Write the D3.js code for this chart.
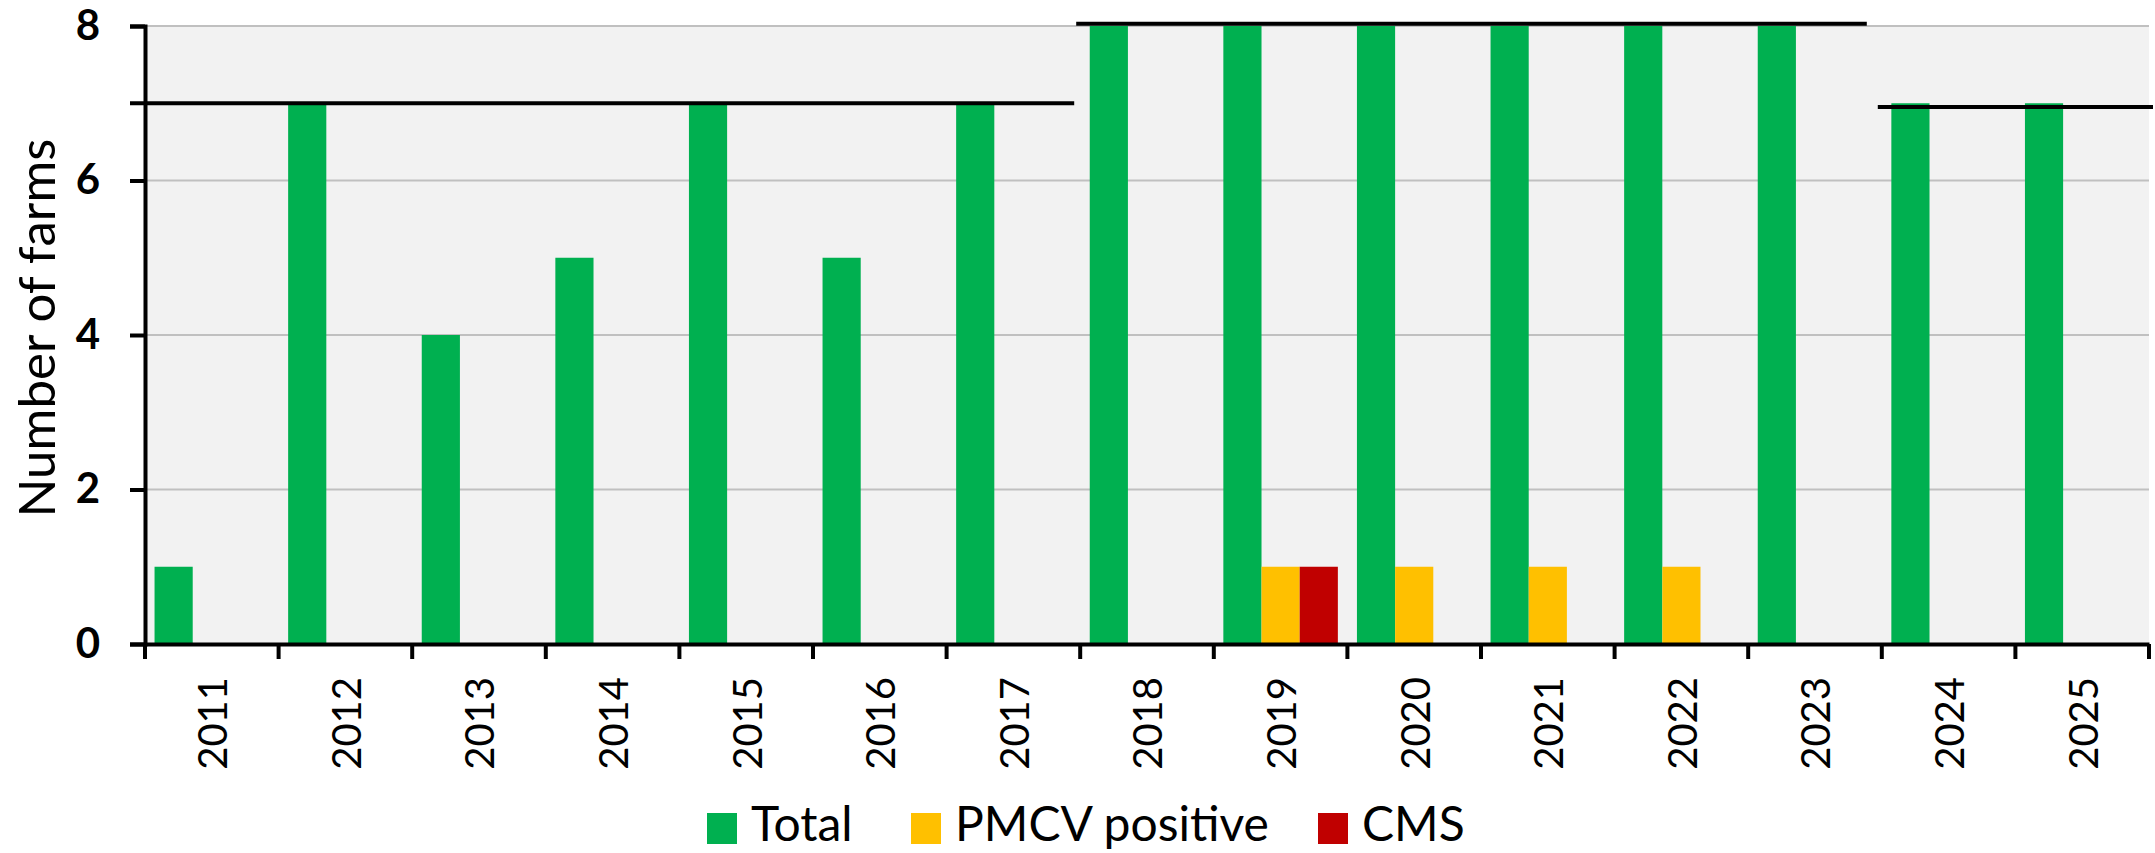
<!DOCTYPE html>
<html>
<head>
<meta charset="utf-8">
<script src="https://cdn.jsdelivr.net/npm/d3@7"></script>
<style>
  body { margin: 0; background: #fff; }
  text { font-family: Lato, "Open Sans", sans-serif; }
</style>
</head>
<body>
<div id="chart"></div>
<script>
var years = ["2011","2012","2013","2014","2015","2016","2017","2018","2019","2020","2021","2022","2023","2024","2025"];
var seriesNames = ["Total", "PMCV positive", "CMS"];
var totalFarms = [1, 7, 4, 5, 7, 5, 7, 8, 8, 8, 8, 8, 8, 7, 7];
var pmcvPositive = [0, 0, 0, 0, 0, 0, 0, 0, 1, 1, 1, 1, 0, 0, 0];
var cmsFarms = [0, 0, 0, 0, 0, 0, 0, 0, 1, 0, 0, 0, 0, 0, 0];
var yTicks = [0, 2, 4, 6, 8];
// horizontal reference lines over year ranges
var refStart = ["2011", "2018", "2024"];
var refEnd = ["2017", "2023", "2025"];
var refValue = [7, 8.03, 6.95];

var colors = ["#00b050", "#ffc000", "#c00000"];

function init(){
    var w = 2155;
    var h = 853;
    var left = 145, right = 2149, top = 26, bottom = 644;

    var svg = d3.select("#chart")
        .append("svg")
        .attr("width", w)
        .attr("height", h);

    var x = d3.scaleBand().domain(years).range([left, right]);
    var x1 = d3.scaleBand().domain(seriesNames).range([0, x.bandwidth()]).paddingOuter(0.25);
    var y = d3.scaleLinear().domain([0, 8]).range([bottom, top]);

    // plot background
    svg.append("rect")
        .attr("x", left).attr("y", top)
        .attr("width", right - left).attr("height", bottom - top)
        .attr("fill", "#f2f2f2");

    // gridlines
    svg.append("g")
        .selectAll("line")
        .data(yTicks.filter(function(d){ return d > 0; }))
        .enter()
        .append("line")
        .attr("x1", left).attr("x2", right)
        .attr("y1", function(d){ return y(d); })
        .attr("y2", function(d){ return y(d); })
        .attr("stroke", "#c0c0c0")
        .attr("stroke-width", 2);

    // bars
    var data = years.map(function(yr, i){
        return {year: yr, values: [totalFarms[i], pmcvPositive[i], cmsFarms[i]]};
    });
    svg.append("g")
        .selectAll("g")
        .data(data)
        .enter()
        .append("g")
        .attr("transform", function(d){ return "translate(" + x(d.year) + ",0)"; })
        .selectAll("rect")
        .data(function(d){ return d.values.map(function(v, j){ return {name: seriesNames[j], value: v, c: colors[j]}; }); })
        .enter()
        .filter(function(d){ return d.value > 0; })
        .append("rect")
        .attr("x", function(d){ return x1(d.name); })
        .attr("width", x1.bandwidth())
        .attr("y", function(d){ return y(d.value); })
        .attr("height", function(d){ return y(0) - y(d.value); })
        .attr("fill", function(d){ return d.c; });

    // y axis
    var yAxis = d3.axisLeft(y).tickValues(yTicks).tickSize(15).tickFormat(d3.format("d"));
    var gy = svg.append("g")
        .attr("transform", "translate(" + left + ",0)")
        .call(yAxis);
    gy.select(".domain").attr("stroke", "#000").attr("stroke-width", 4);
    gy.selectAll(".tick line").attr("stroke", "#000").attr("stroke-width", 4);
    gy.selectAll(".tick text")
        .attr("x", -45)
        .attr("font-size", 42)
        .attr("font-weight", "bold")
        .attr("font-family", "Lato")
        .attr("fill", "#000");

    // x axis
    var xAxis = d3.axisBottom(x).tickSize(0).tickFormat("");
    var gx = svg.append("g")
        .attr("transform", "translate(0," + bottom + ")")
        .call(xAxis);
    gx.select(".domain").attr("stroke", "#000").attr("stroke-width", 4);
    gx.selectAll(".tick").remove();
    var bounds = years.map(function(d){ return x(d); }).concat([right]);
    gx.selectAll(".bound")
        .data(bounds)
        .enter()
        .append("line")
        .attr("x1", function(d){ return d; })
        .attr("x2", function(d){ return d; })
        .attr("y1", 0).attr("y2", 15)
        .attr("stroke", "#000")
        .attr("stroke-width", 4);

    svg.append("g")
        .selectAll("text")
        .data(years)
        .enter()
        .append("text")
        .attr("transform", function(d){ return "translate(" + (x(d) + x.bandwidth() / 2 + 1) + ",677) rotate(-90)"; })
        .attr("text-anchor", "end")
        .attr("dy", "0.36em")
        .attr("font-size", 40)
        .attr("fill", "#000")
        .text(function(d){ return d; });

    // reference lines
    var startOff = [-15, -4, -4];
    var endOff = [-6, -15, 4];
    svg.append("g")
        .selectAll("line")
        .data(refValue)
        .enter()
        .append("line")
        .attr("x1", function(d, i){ return x(refStart[i]) + startOff[i]; })
        .attr("x2", function(d, i){ return x(refEnd[i]) + x.bandwidth() + endOff[i]; })
        .attr("y1", function(d){ return y(d); })
        .attr("y2", function(d){ return y(d); })
        .attr("stroke", "#000")
        .attr("stroke-width", 4);

    // y title
    svg.append("text")
        .attr("transform", "translate(37,328) rotate(-90)")
        .attr("text-anchor", "middle")
        .attr("dy", "0.35em")
        .attr("font-size", 51)
        .attr("fill", "#000")
        .text("Number of farms");

    // legend
    var legX = [707, 911, 1318];
    var leg = svg.append("g")
        .selectAll("g")
        .data(seriesNames)
        .enter()
        .append("g")
        .attr("transform", function(d, i){ return "translate(" + legX[i] + ",813)"; });
    leg.append("rect")
        .attr("width", 30).attr("height", 31)
        .attr("fill", function(d, i){ return colors[i]; });
    leg.append("text")
        .attr("x", 44)
        .attr("y", 28)
        .attr("font-size", 48)
        .attr("fill", "#000")
        .text(function(d){ return d; });
}
window.onload = init;
</script>
</body>
</html>
